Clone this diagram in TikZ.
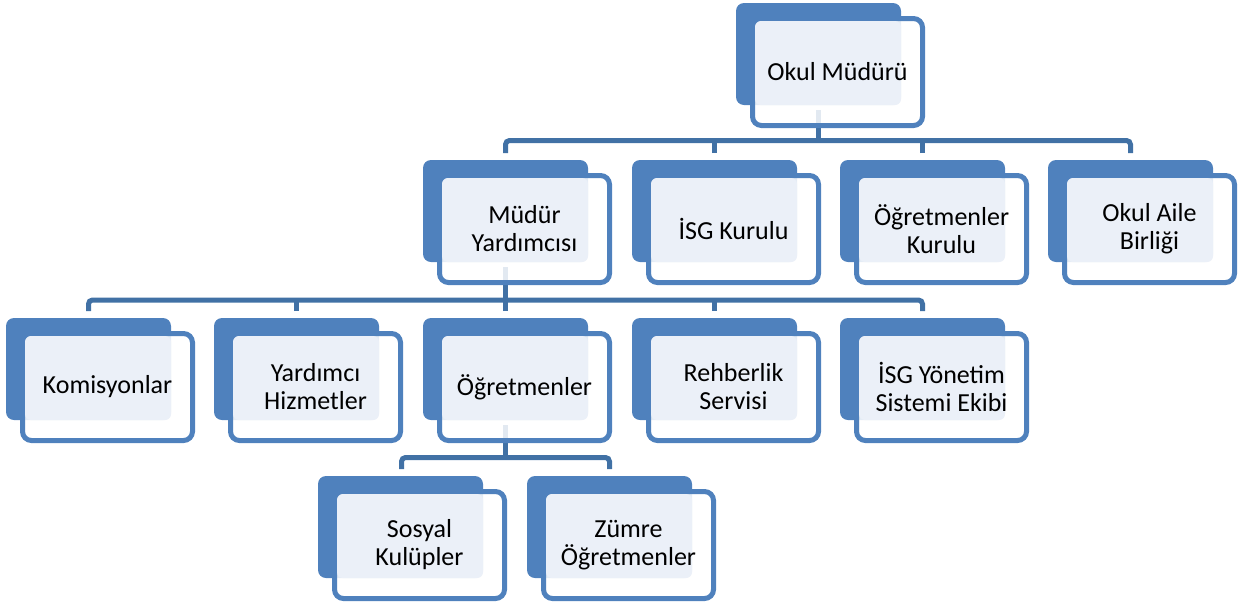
\documentclass[tikz,border=0pt]{standalone}
\usepackage{fontspec}
\setmainfont{Carlito}
\definecolor{backblue}{RGB}{79,129,189}
\definecolor{lineblue}{RGB}{65,113,165}
\definecolor{lightfill}{RGB}{235,240,248}
\tikzset{
  conn/.style={draw=lineblue,line width=5pt,rounded corners=4pt},
  backrect/.style={fill=backblue,rounded corners=8pt},
  frontrect/.style={draw=backblue,line width=5pt,fill=white,fill opacity=0.85,rounded corners=9pt},
  lightrect/.style={fill=lightfill,rounded corners=6pt},
  boxtext/.style={align=center,font=\fontsize{26}{28}\selectfont,text=black,inner sep=0pt}
}
\newcommand{\orgbox}[4]{%
  \fill[backrect] (#2,#3) rectangle ++(165,102);
  \draw[frontrect] (#2+16.5,#3+15.5) rectangle (#2+186.5,#3+122.5);
  \fill[lightrect] (#2+19,#3+18) rectangle (#2+165,#3+102);
  \node[boxtext] (#1) at (#2+101.5,#3+69) {#4};
  \coordinate (#1-in) at (#2+82.5,#3-7);
  \coordinate (#1-out) at (#2+82.5,#3+107);
}
\begin{document}
\begin{tikzpicture}[x=1pt,y=-1pt]
\useasboundingbox (0,0) rectangle (1242,603);
% bus coordinates
\coordinate (busA) at (818,140.5);
\coordinate (busB) at (505.5,300);
\coordinate (busC) at (505.5,457.5);
% connectors (drawn first)
\coordinate (om-out) at (818,110);
\coordinate (my-in) at (505.5,153);
\coordinate (isg-in) at (714.5,153);
\coordinate (ok-in) at (922.5,153);
\coordinate (oab-in) at (1130.5,153);
\coordinate (my-out) at (505.5,267);
\coordinate (kom-in) at (88.5,311);
\coordinate (yh-in) at (296.5,311);
\coordinate (ogr-in) at (505.5,311);
\coordinate (reh-in) at (714.5,311);
\coordinate (isgy-in) at (922.5,311);
\coordinate (ogr-out) at (505.5,425);
\coordinate (sk-in) at (401.5,469);
\coordinate (zo-in) at (609.5,469);
\draw[conn] (om-out) -- (busA);
\draw[conn] (my-in) |- (busA) -| (oab-in);
\draw[conn] (isg-in) -- (isg-in |- busA);
\draw[conn] (ok-in) -- (ok-in |- busA);
\draw[conn] (my-out) -- (busB);
\draw[conn] (kom-in) |- (busB) -| (isgy-in);
\draw[conn] (yh-in) -- (yh-in |- busB);
\draw[conn] (ogr-in) -- (ogr-in |- busB);
\draw[conn] (reh-in) -- (reh-in |- busB);
\draw[conn] (ogr-out) -- (busC);
\draw[conn] (sk-in) |- (busC) -| (zo-in);
% boxes
\orgbox{om}{736}{3}{Okul Müdürü}
\orgbox{my}{423}{160}{Müdür\\Yardımcısı}
\orgbox{isg}{632}{160}{İSG Kurulu}
\orgbox{ok}{840}{160}{Öğretmenler\\Kurulu}
\orgbox{oab}{1048}{160}{Okul Aile\\Birliği}
\orgbox{kom}{6}{318}{Komisyonlar}
\orgbox{yh}{214}{318}{Yardımcı\\Hizmetler}
\orgbox{ogr}{423}{318}{Öğretmenler}
\orgbox{reh}{632}{318}{Rehberlik\\Servisi}
\orgbox{isgy}{840}{318}{İSG Yönetim\\Sistemi Ekibi}
\orgbox{sk}{318}{476}{Sosyal\\Kulüpler}
\orgbox{zo}{527}{476}{Zümre\\Öğretmenler}
\end{tikzpicture}
\end{document}
